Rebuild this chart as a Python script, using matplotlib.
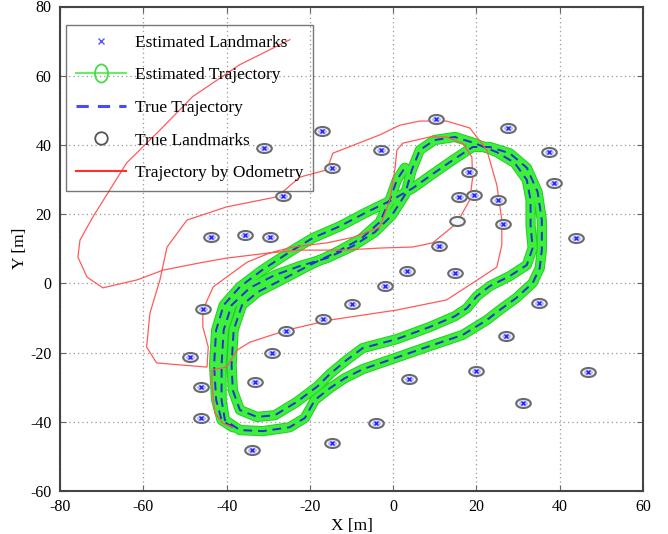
"""
SLAM result: true / estimated / odometry trajectories with landmarks
"""
import matplotlib
matplotlib.use("Agg")
import matplotlib.pyplot as plt
import matplotlib.patheffects as pe
from matplotlib.lines import Line2D
from matplotlib.path import Path
from matplotlib.transforms import Affine2D

# true landmarks [m]
lm_x = [10.4, 27.5, -17.1, -31.0, -3.0, 37.4, -14.7, 18.2, 38.6, -26.4, 19.4, 15.7, 25.2, 26.3,
        15.3, -43.7, -35.6, -29.6, 43.8, 10.9, 3.3, 14.8, -2.0, -9.9, 35.0, -45.7, -16.9, -25.7,
        27.2, -29.1, -48.8, -33.2, 19.8, 46.9, -46.1, 3.8, 31.3, -46.1, -4.2, -14.7, -33.9]
lm_y = [47.4, 44.9, 44.0, 39.1, 38.5, 37.9, 33.4, 32.2, 29.0, 25.2, 25.5, 24.9, 24.1, 17.1,
        18.0, 13.4, 14.0, 13.4, 13.0, 10.8, 3.5, 2.9, -0.8, -6.0, -5.7, -7.5, -10.3, -13.8,
        -15.2, -20.2, -21.4, -28.5, -25.3, -25.6, -30.0, -27.7, -34.6, -38.9, -40.4, -46.1, -48.2]

# estimated landmarks (the one at (15.3, 18.0) has no estimate)
est_lm_x = [10.4, 27.5, -17.1, -31.0, -3.0, 37.4, -14.7, 18.2, 38.6, -26.4, 19.4, 15.7, 25.2, 26.3,
            -43.7, -35.6, -29.6, 43.8, 10.9, 3.3, 14.8, -2.0, -9.9, 35.0, -45.7, -16.9, -25.7,
            27.2, -29.1, -48.8, -33.2, 19.8, 46.9, -46.1, 3.8, 31.3, -46.1, -4.2, -14.7, -33.9]
est_lm_y = [47.4, 44.9, 44.0, 39.1, 38.5, 37.9, 33.4, 32.2, 29.0, 25.2, 25.5, 24.9, 24.1, 17.1,
            13.4, 14.0, 13.4, 13.0, 10.8, 3.5, 2.9, -0.8, -6.0, -5.7, -7.5, -10.3, -13.8,
            -15.2, -20.2, -21.4, -28.5, -25.3, -25.6, -30.0, -27.7, -34.6, -38.9, -40.4, -46.1, -48.2]

# true trajectory (about two and a half laps); the estimate sits on it at this scale
true_x = [-38.5, -41.2, -42.5, -43.0, -42.5, -40.7, -36.8, -31.5, -24.8, -19.3, -12.8, -6.8,
          -0.3, 4.7, 9.5, 14.3, 19.1, 23.2, 28.0, 32.1, 34.7, 35.7, 35.7, 35.2, 33.5, 29.6,
          25.6, 22.5, 16.7, 8.8, 0.9, -7.3, -11.6, -15.2, -18.8, -21.2, -24.9, -31.3, -36.8,
          -40.4,
          -41.2, -41.2, -40.7, -38.8, -34.4, -28.4, -22.4, -15.9, -9.6, -4.4, -0.3, 2.8, 4.5,
          6.4, 9.9, 14.8, 19.6, 24.9, 29.2, 32.1, 33.0, 33.0, 33.5, 32.1, 28.0, 23.2, 20.1,
          17.7, 14.8, 8.8, 0.9, -7.3, -11.1, -15.2, -18.1, -23.2, -28.4, -32.7, -36.8,
          -38.5, -38.8, -38.3, -36.3, -32.5, -26.0, -20.0, -13.5, -7.6, -3.2, -0.8, 0.9, 2.8]
true_y = [-41.6, -39.5, -33.7, -23.6, -13.5, -6.3, -1.0, 3.8, 9.1, 13.1, 16.5, 20.3,
          24.1, 27.5, 31.6, 35.6, 39.4, 39.4, 37.6, 33.4, 26.4, 18.3, 9.6, 4.4, 0.1, -4.2,
          -7.7, -10.6, -14.9, -18.1, -21.4, -24.8, -27.4, -30.3, -33.7, -38.9, -41.6, -42.7, -42.4,
          -39.5,
          -33.7, -23.6, -13.5, -6.3, -1.3, 2.4, 5.0, 7.3, 10.8, 14.8, 19.7, 25.5, 32.8,
          38.5, 41.4, 42.3, 40.5, 37.9, 34.8, 29.9, 24.1, 16.8, 10.2, 5.3, 2.1, -0.8, -3.7,
          -7.2, -9.5, -12.6, -16.1, -18.7, -22.1, -26.2, -29.7, -34.3, -38.1, -38.6, -36.6,
          -30.9, -23.6, -13.5, -6.3, -2.5, 1.5, 5.3, 9.1, 13.0, 17.7, 24.1, 29.9, 33.4]

# trajectory by odometry
odo_x = [-38.5, -40.9, -42.8, -43.5, -43.5, -40.0, -37.5, -34.4, -25.5, -15.2, 0.9, 12.8,
         19.1, 24.9, 26.1, 26.1, 24.9, 22.5, 18.4, 12.8, 6.4, 1.6, -3.2, -14.5, -15.9, -22.4,
         -27.9, -40.0, -49.5, -54.3, -56.0, -58.4, -59.2, -56.8, -44.7, -44.4, -45.7, -45.7,
         -43.2, -35.1, -29.6, -24.1, -15.9, -9.6, -3.2, -0.8, 0.4, 0.9, 2.3, 8.8, 12.8, 16.7,
         18.9, 19.1, 18.4, 15.3, 9.5, 4.7, -3.2, -12.1, -22.4, -29.6, -40.0, -46.5, -55.3,
         -61.5, -69.7, -73.5, -75.7, -75.2, -72.1, -64.0, -56.0, -48.1, -36.8, -24.8]
odo_y = [-41.6, -40.4, -37.5, -29.4, -25.0, -24.2, -19.3, -17.0, -13.5, -10.6, -7.7, -4.8,
         0.1, 4.7, 11.1, 18.3, 28.4, 38.5, 44.9, 46.9, 46.9, 45.7, 42.9, 37.6, 32.8, 30.7,
         25.0, 22.1, 18.3, 10.5, 1.0, -8.6, -18.4, -23.0, -24.2, -18.4, -12.6, -7.7,
         -1.0, 6.1, 8.8, 10.5, 11.7, 13.3, 16.2, 24.1, 32.8, 38.5, 40.5, 42.3, 42.3, 40.5,
         36.5, 30.7, 24.1, 17.4, 11.7, 10.5, 10.2, 9.6, 9.6, 8.8, 7.3, 5.9, 3.8,
         1.0, -1.3, 1.8, 7.6, 12.5, 19.2, 34.8, 44.3, 54.0, 63.2, 70.4]

plt.rcParams["font.family"] = ["Liberation Serif", "DejaVu Serif"]
plt.rcParams["axes.unicode_minus"] = False

# flat ellipse used as landmark marker, upright one for the legend
flat_ell = Path.unit_circle().transformed(Affine2D().scale(1.0, 0.62))
tall_ell = Path.unit_circle().transformed(Affine2D().scale(0.72, 1.0))

fig = plt.figure(figsize=(6.68, 5.34), dpi=100)
ax = fig.add_axes([60 / 668, 1 - 491 / 534, 583 / 668, 484.5 / 534])

ax.plot(true_x, true_y, color="#3cf03c", lw=6.0, solid_capstyle="round",
        solid_joinstyle="round", zorder=2,
        path_effects=[pe.Stroke(linewidth=7.4, foreground="#26cc26"), pe.Normal()])
ax.plot(true_x, true_y, color="#2233cc", lw=1.4, dashes=(4.5, 3), zorder=3)
ax.plot(odo_x, odo_y, color="#ff5a5a", lw=0.9, zorder=4)

ax.plot(lm_x, lm_y, ls="none", marker=flat_ell, ms=10.5, mfc="#f4f4ff", mec="#6a6a6a",
        mew=1.5, zorder=5)
ax.plot(est_lm_x, est_lm_y, ls="none", marker=flat_ell, ms=6.5, mfc="#b8bcff", mec="none",
        zorder=6)
ax.plot(est_lm_x, est_lm_y, ls="none", marker="x", ms=3.5, mew=1.0, color="#2a2aff", zorder=7)

ax.set_xlim(-80, 60)
ax.set_ylim(-60, 80)
ax.set_xticks(range(-80, 61, 20))
ax.set_yticks(range(-60, 81, 20))
ax.grid(True, ls=(0, (1, 2.5)), color="#999999", lw=0.9)
ax.set_axisbelow(True)
ax.tick_params(direction="in", length=4, top=True, right=True, labelsize=11.5,
               color="#666666", pad=6)
for s in ax.spines.values():
    s.set_linewidth(1.5)
    s.set_color("#444444")
ax.set_xlabel("X [m]", fontsize=12.5, labelpad=2)
ax.set_ylabel("Y [m]", fontsize=12.5, labelpad=2)

handles = [
    Line2D([], [], ls="none", marker="x", ms=5, mew=1.0, color="#5555ff"),
    Line2D([], [], color="#66ee66", lw=1.5, marker=tall_ell, ms=13, mfc="none",
           mec="#44dd44", mew=1.3),
    Line2D([], [], color="#4a4aff", lw=2.2, dashes=(4, 3)),
    Line2D([], [], ls="none", marker="o", ms=9, mfc="none", mec="#555555", mew=1.3),
    Line2D([], [], color="#ff3030", lw=1.5),
]
labels = ["Estimated Landmarks", "Estimated Trajectory", "True Trajectory",
          "True Landmarks", "Trajectory by Odometry"]
leg = ax.legend(handles, labels, loc="upper left", bbox_to_anchor=(0.0103, 0.962),
                borderaxespad=0, borderpad=0.55, fontsize=12.5, labelspacing=0.95,
                handlelength=2.9, handletextpad=0.55, fancybox=False,
                facecolor="none", edgecolor="#555555")
leg.get_frame().set_linewidth(1.0)

fig.savefig("out.png", dpi=100)
